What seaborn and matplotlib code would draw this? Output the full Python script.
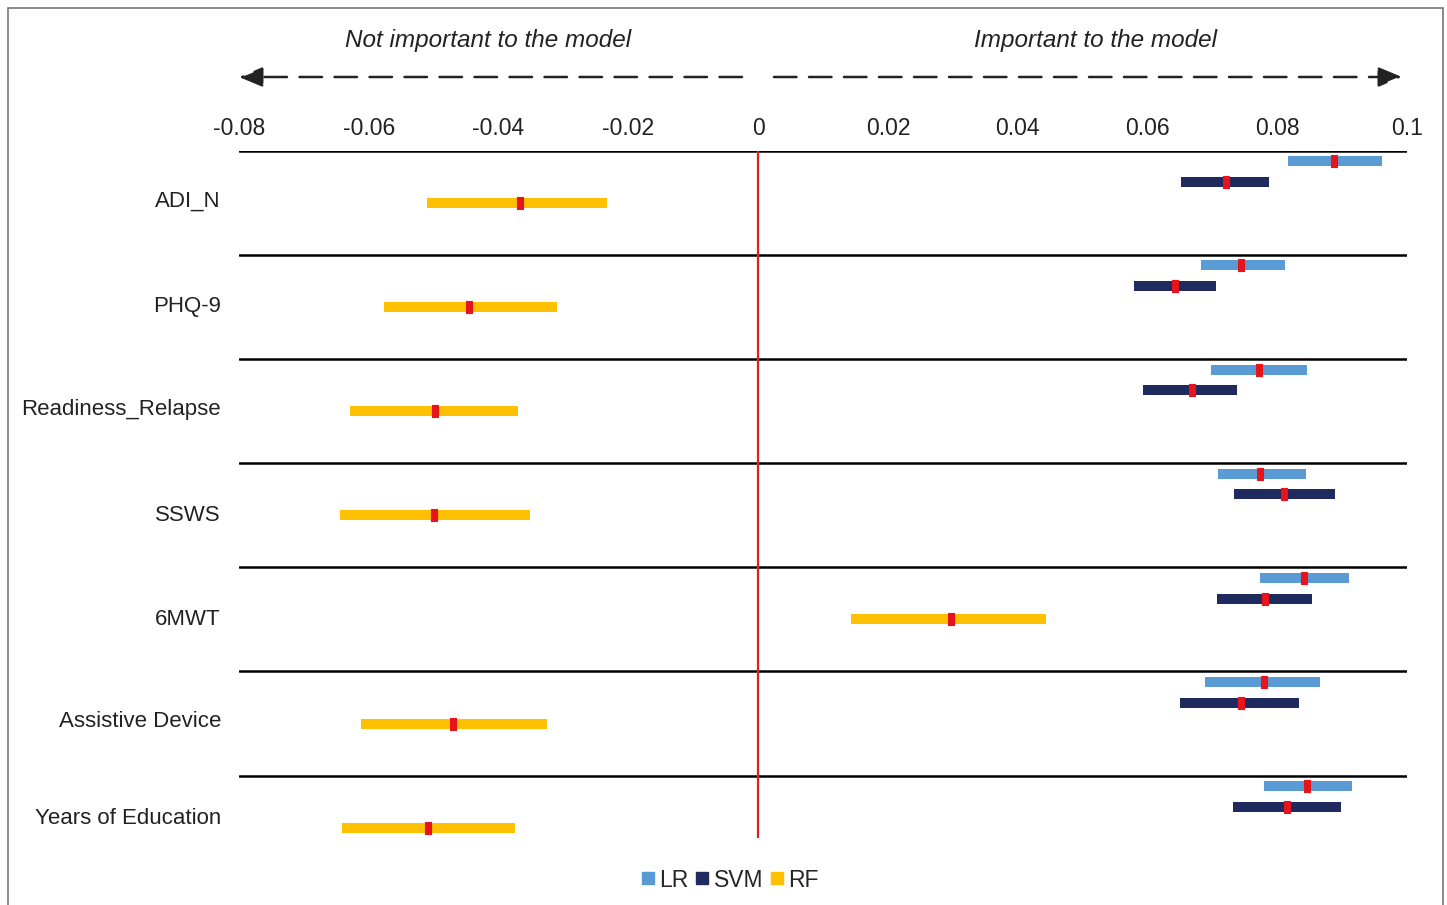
import numpy as np
import pandas as pd
import matplotlib
matplotlib.use("Agg")
import matplotlib.pyplot as plt
import seaborn as sns
from matplotlib.patches import Rectangle, FancyArrowPatch
from matplotlib.lines import Line2D

# Feature importance data (lo, mid, hi)
features = ["ADI_N", "PHQ-9", "Readiness_Relapse", "SSWS", "6MWT",
            "Assistive Device", "Years of Education"]
models = ["LR", "SVM", "RF"]

lr_lo = [0.0817, 0.0683, 0.0698, 0.0709, 0.0774, 0.0689, 0.0780]
lr_mid = [0.0888, 0.0744, 0.0772, 0.0774, 0.0841, 0.0780, 0.0846]
lr_hi = [0.0962, 0.0812, 0.0846, 0.0845, 0.0911, 0.0866, 0.0915]

svm_lo = [0.0652, 0.0579, 0.0593, 0.0734, 0.0707, 0.0650, 0.0732]
svm_mid = [0.0721, 0.0643, 0.0669, 0.0811, 0.0781, 0.0744, 0.0815]
svm_hi = [0.0787, 0.0706, 0.0738, 0.0889, 0.0854, 0.0834, 0.0898]

rf_lo = [-0.0510, -0.0576, -0.0629, -0.0644, 0.0143, -0.0612, -0.0641]
rf_mid = [-0.0367, -0.0445, -0.0498, -0.0499, 0.0297, -0.0470, -0.0509]
rf_hi = [-0.0233, -0.0310, -0.0370, -0.0351, 0.0444, -0.0325, -0.0374]

colors = {"LR": "#5B9BD5", "SVM": "#1F2A5E", "RF": "#FFC000"}
offsets = {"LR": 0.10, "SVM": 0.30, "RF": 0.50}
label_pos = [0.46, 1.47, 2.46, 3.48, 4.48, 5.46, 6.39]

rows = []
for m, lo, mid, hi in [("LR", lr_lo, lr_mid, lr_hi),
                       ("SVM", svm_lo, svm_mid, svm_hi),
                       ("RF", rf_lo, rf_mid, rf_hi)]:
    for i, f in enumerate(features):
        rows.append({"feature": f, "model": m, "lo": lo[i], "mid": mid[i],
                     "hi": hi[i], "y": i + offsets[m]})
df = pd.DataFrame(rows)

sns.set_theme(style="white")
plt.rcParams["font.family"] = ["Liberation Sans", "DejaVu Sans"]

fig = plt.figure(figsize=(14.47, 9.05), dpi=100)
W, H = 1447, 905
ax = fig.add_axes([239 / W, 1 - 838 / H, (1407 - 239) / W, (838 - 151) / H])

# bars
for m in models:
    d = df[df["model"] == m]
    ax.hlines(d["y"], d["lo"], d["hi"], color=colors[m], lw=7.2, zorder=2)

# red midpoints
rect = [(-1, -2.2), (1, -2.2), (1, 2.2), (-1, 2.2), (-1, -2.2)]
sns.scatterplot(data=df, x="mid", y="y", marker=rect, s=85, color="#E8141C",
                edgecolor="#E8141C", linewidth=0.8, ax=ax, zorder=3,
                legend=False)

# row separators and zero line
for i in range(len(features)):
    ax.axhline(i, color="black", lw=1.8, zorder=1)
ax.axvline(0, color="#E02020", lw=1.6, zorder=1)

ax.set_xlim(-0.08, 0.1)
ax.set_ylim(6.6, 0)
ax.set_xticks([-0.08, -0.06, -0.04, -0.02, 0, 0.02, 0.04, 0.06, 0.08, 0.1])
ax.set_xticklabels(["-0.08", "-0.06", "-0.04", "-0.02", "0", "0.02", "0.04",
                    "0.06", "0.08", "0.1"])
ax.xaxis.tick_top()
ax.tick_params(axis="x", length=0, pad=8, labelsize=16.5, colors="#222222")
ax.set_yticks(label_pos)
ax.set_yticklabels(features)
ax.tick_params(axis="y", length=0, pad=13, labelsize=16, colors="#222222")
ax.set_xlabel("")
ax.set_ylabel("")
for s in ax.spines.values():
    s.set_visible(False)

# direction arrows and labels
y_arr = 1 - 77 / H
for x0, x1 in [(742, 239), (774, 1402)]:
    fig.add_artist(FancyArrowPatch((x0 / W, y_arr), (x1 / W, y_arr),
                                   transform=fig.transFigure,
                                   arrowstyle="-|>,head_length=1.2,head_width=0.5",
                                   linestyle=(0, (9, 5)), lw=1.8, color="#222222",
                                   mutation_scale=12, shrinkA=0, shrinkB=0))
fig.text(488 / W, 1 - 40 / H, "Not important to the model", ha="center",
         va="center", style="italic", fontsize=17.5, color="#222222")
fig.text(1095 / W, 1 - 40 / H, "Important to the model", ha="center",
         va="center", style="italic", fontsize=17.5, color="#222222")

# legend
handles = [Line2D([], [], marker="s", linestyle="none", markersize=8,
                  color=colors[m]) for m in models]
fig.legend(handles, models, loc="center", bbox_to_anchor=(730 / W, 1 - 880 / H),
           ncol=3, frameon=False, fontsize=16.5, handletextpad=0.2,
           columnspacing=0.3, handlelength=0.6)

# figure border
fig.add_artist(Rectangle((8 / W, -0.02), (1443 - 8) / W, 1 - 8 / H + 0.02,
                         transform=fig.transFigure, fill=False,
                         edgecolor="#777777", lw=1.2))

fig.savefig("out.png", dpi=100)
